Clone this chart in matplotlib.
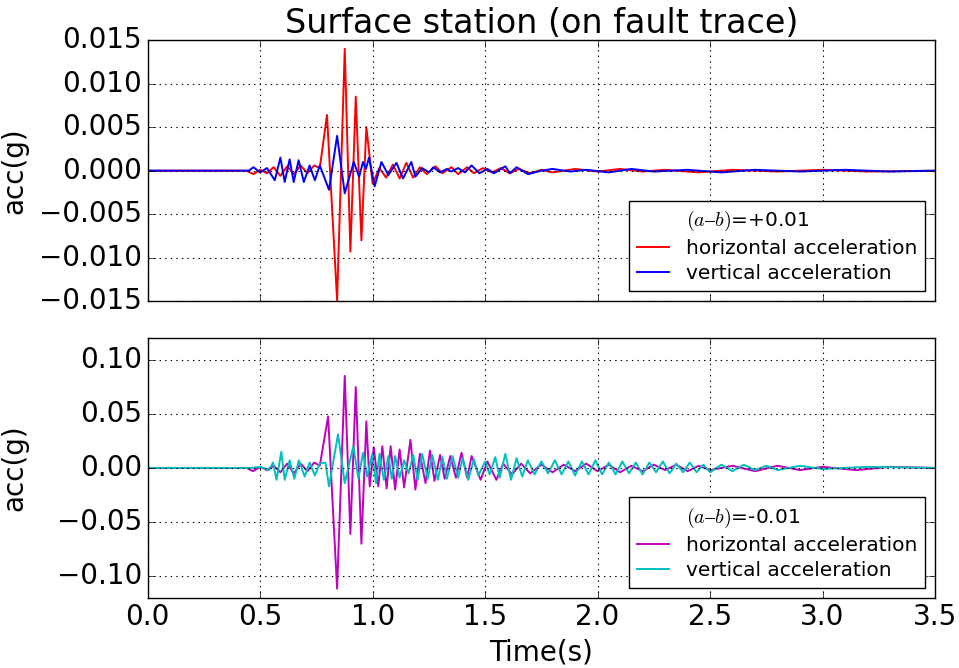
import matplotlib
matplotlib.use("Agg")
import matplotlib.pyplot as plt

# top panel, (a-b)=+0.01 : extrema
t_h_pos = [0.0, 0.44, 0.47, 0.50, 0.53, 0.56, 0.59, 0.62, 0.65, 0.68, 0.71, 0.74, 0.765,
           0.797, 0.842, 0.876, 0.901, 0.925, 0.950, 0.972, 1.00, 1.03, 1.06, 1.09, 1.12,
           1.15, 1.18, 1.21, 1.24, 1.28, 1.31, 1.35, 1.38, 1.42, 1.45, 1.49, 1.53, 1.57,
           1.61, 1.65, 1.70, 1.75, 1.80, 1.90, 2.00, 2.10, 2.20, 2.30, 2.45, 2.60, 2.80,
           3.00, 3.20, 3.50]
acc_h_pos = [0.0, 0.0, -0.0004, 0.0001, -0.0003, 0.0004, -0.0006, 0.0005, -0.0004, 0.0006,
             -0.0003, 0.0006, 0.0003, 0.0064, -0.0149, 0.0140, -0.0093, 0.0085, -0.0080,
             0.0050, -0.0015, 0.0003, -0.0008, 0.0007, -0.0009, 0.0009, -0.0008, 0.0004,
             -0.0004, 0.0005, -0.0003, 0.0004, -0.0004, 0.0004, -0.0003, 0.0003, -0.0002,
             0.0003, -0.0003, 0.0002, -0.0003, 0.0001, -0.0002, 0.0002, -0.0001, 0.0002,
             -0.0001, 0.0001, -0.0002, 0.0001, -0.0001, 0.0001, -0.0001, 0.0]

t_v_pos = [0.0, 0.45, 0.47, 0.50, 0.53, 0.565, 0.59, 0.609, 0.631, 0.649, 0.671, 0.694,
           0.720, 0.743, 0.765, 0.806, 0.842, 0.876, 0.916, 0.94, 0.957, 0.970, 0.984,
           1.009, 1.039, 1.07, 1.106, 1.135, 1.172, 1.19, 1.22, 1.25, 1.27, 1.30, 1.33,
           1.35, 1.38, 1.41, 1.44, 1.475, 1.51, 1.54, 1.57, 1.59, 1.61, 1.64, 1.69, 1.75,
           1.80, 1.88, 1.95, 2.05, 2.15, 2.25, 2.40, 2.55, 2.70, 2.90, 3.10, 3.30, 3.50]
acc_v_pos = [0.0, 0.0, 0.0004, -0.0002, 0.0003, -0.0011, 0.0015, -0.0013, 0.0013, -0.0013,
             0.0012, -0.0013, 0.0006, -0.0011, 0.0006, -0.0022, 0.0040, -0.0026, 0.0010,
             -0.0007, 0.0010, 0.0002, 0.0015, -0.0018, 0.0010, -0.0005, 0.0009, -0.0009,
             0.0010, -0.0007, 0.0003, -0.0002, 0.0004, -0.0002, 0.0002, -0.0001, 0.0003,
             -0.0002, 0.0006, -0.0003, 0.0002, -0.0003, 0.0002, 0.0005, -0.0003, 0.0004,
             -0.0004, 0.0, 0.0002, -0.0001, 0.0001, -0.0002, 0.0002, -0.0001, 0.0001,
             -0.0002, 0.0001, -0.0001, 0.0001, -0.0001, 0.0]

# bottom panel, (a-b)=-0.01
t_h_neg = [0.0, 0.44, 0.468, 0.50, 0.53, 0.56, 0.59, 0.62, 0.65, 0.68, 0.71, 0.74, 0.765,
           0.802, 0.842, 0.876, 0.901, 0.925, 0.950, 0.972, 0.987, 1.005, 1.025, 1.043,
           1.062, 1.08, 1.10, 1.12, 1.14, 1.168, 1.19, 1.21, 1.235, 1.255, 1.275, 1.30,
           1.32, 1.345, 1.37, 1.395, 1.42, 1.44, 1.48, 1.51, 1.55, 1.58, 1.62, 1.66, 1.70,
           1.75, 1.80, 1.85, 1.90, 1.95, 2.00, 2.05, 2.10, 2.15, 2.20, 2.25, 2.30, 2.35,
           2.40, 2.45, 2.50, 2.60, 2.70, 2.80, 2.90, 3.00, 3.15, 3.30, 3.50]
acc_h_neg = [0.0, 0.0, -0.003, 0.001, -0.002, 0.002, -0.004, 0.004, -0.005, 0.004, -0.003,
             0.005, 0.002, 0.0475, -0.1115, 0.085, -0.061, 0.0747, -0.070, 0.043, -0.017,
             0.019, -0.017, 0.020, -0.019, 0.020, -0.020, 0.017, -0.018, 0.026, -0.020,
             0.013, -0.014, 0.016, -0.012, 0.012, -0.010, 0.011, -0.009, 0.014, -0.009,
             0.011, -0.011, 0.006, -0.011, 0.004, -0.006, 0.004, -0.005, 0.003, -0.004,
             0.003, -0.003, 0.004, -0.003, 0.003, -0.004, 0.002, -0.003, 0.003, -0.002,
             0.003, -0.003, 0.002, -0.002, 0.002, -0.003, 0.002, -0.002, 0.001, -0.002,
             0.001, 0.0]

t_v_neg = [0.0, 0.46, 0.50, 0.54, 0.557, 0.573, 0.594, 0.609, 0.631, 0.652, 0.672, 0.698,
           0.72, 0.743, 0.765, 0.79, 0.806, 0.846, 0.876, 0.914, 0.937, 0.957, 0.975, 0.998,
           1.015, 1.03, 1.05, 1.07, 1.085, 1.10, 1.12, 1.14, 1.16, 1.18, 1.20, 1.22, 1.245,
           1.265, 1.29, 1.31, 1.33, 1.355, 1.38, 1.40, 1.425, 1.45, 1.47, 1.50, 1.52, 1.545,
           1.565, 1.59, 1.615, 1.64, 1.665, 1.69, 1.72, 1.75, 1.78, 1.81, 1.84, 1.87, 1.90,
           1.93, 1.96, 1.99, 2.02, 2.05, 2.08, 2.11, 2.14, 2.17, 2.20, 2.23, 2.26, 2.29,
           2.32, 2.35, 2.38, 2.41, 2.44, 2.47, 2.50, 2.55, 2.60, 2.65, 2.70, 2.75, 2.80,
           2.90, 3.00, 3.20, 3.50]
acc_v_neg = [0.0, 0.0, 0.001, -0.002, 0.005, -0.011, 0.015, -0.011, 0.007, -0.010, 0.007,
             -0.008, 0.005, -0.007, 0.004, 0.005, -0.017, 0.031, -0.014, 0.020, -0.010,
             0.014, -0.008, 0.013, -0.014, 0.013, -0.011, 0.011, -0.010, 0.011, -0.009,
             0.007, -0.005, 0.012, -0.011, 0.013, -0.010, 0.012, -0.011, 0.010, -0.010,
             0.011, -0.009, 0.009, -0.011, 0.008, -0.007, 0.006, -0.006, 0.010, -0.009,
             0.013, -0.011, 0.009, -0.008, 0.007, -0.006, 0.006, -0.005, 0.007, -0.006,
             0.006, -0.007, 0.006, -0.006, 0.007, -0.006, 0.005, -0.006, 0.006, -0.005,
             0.005, -0.006, 0.005, -0.004, 0.006, -0.005, 0.004, -0.004, 0.005, -0.004,
             0.003, -0.004, 0.003, -0.003, 0.003, -0.002, 0.002, -0.002, 0.002, -0.001,
             0.001, 0.0]

x_ticks = [0.0, 0.5, 1.0, 1.5, 2.0, 2.5, 3.0, 3.5]
y_ticks_top = [-0.015, -0.010, -0.005, 0.000, 0.005, 0.010, 0.015]
y_ticks_bot = [-0.10, -0.05, 0.00, 0.05, 0.10]

plt.style.use("classic")
plt.rcParams["mathtext.fontset"] = "cm"
plt.rcParams["font.family"] = ["DejaVu Sans"]

fig = plt.figure(figsize=(9.59, 6.68), dpi=100, facecolor="white")
ax1 = fig.add_axes([0.154, 0.549, 0.821, 0.391])
ax2 = fig.add_axes([0.154, 0.105, 0.821, 0.389], sharex=ax1)

panels = [
    (ax1, t_h_pos, acc_h_pos, t_v_pos, acc_v_pos, "r", "b", "=+0.01", y_ticks_top, "%.3f", 0.015),
    (ax2, t_h_neg, acc_h_neg, t_v_neg, acc_v_neg, "#bf00bf", "#00bfbf", "=-0.01", y_ticks_bot, "%.2f", 0.12),
]
for ax, th, ah, tv, av, ch, cv, tag, yt, fmt, lim in panels:
    ax.plot([], [], " ", label="$(a\u2013b)$" + tag)
    ax.plot(th, ah, color=ch, lw=1.4, label="horizontal acceleration")
    ax.plot(tv, av, color=cv, lw=1.4, label="vertical acceleration")
    ax.set_xlim(0, 3.5)
    ax.set_ylim(-lim, lim)
    ax.set_yticks(yt)
    ax.set_yticklabels([(fmt % v).replace("-", "\u2212") for v in yt])
    ax.set_xticks(x_ticks)
    ax.grid(True, color="black", linestyle=":", linewidth=0.8)
    ax.tick_params(labelsize=20, direction="in", length=5)
    ax.set_ylabel("acc(g)", fontsize=20)
    leg = ax.legend(loc="lower right", fontsize=14.5, frameon=True, fancybox=False,
                    borderaxespad=0.5, handlelength=1.6, numpoints=1,
                    borderpad=0.4, labelspacing=0.3)
    leg.get_frame().set_edgecolor("black")
    leg.get_frame().set_linewidth(1.0)
    ax.yaxis.set_label_coords(-0.152, 0.5)

plt.setp(ax1.get_xticklabels(), visible=False)
ax2.set_xticklabels(["%.1f" % v for v in x_ticks])
ax2.set_xlabel("Time(s)", fontsize=20)
ax1.set_title("Surface station (on fault trace)", fontsize=24)

fig.savefig("out.png", dpi=100, facecolor="white")
